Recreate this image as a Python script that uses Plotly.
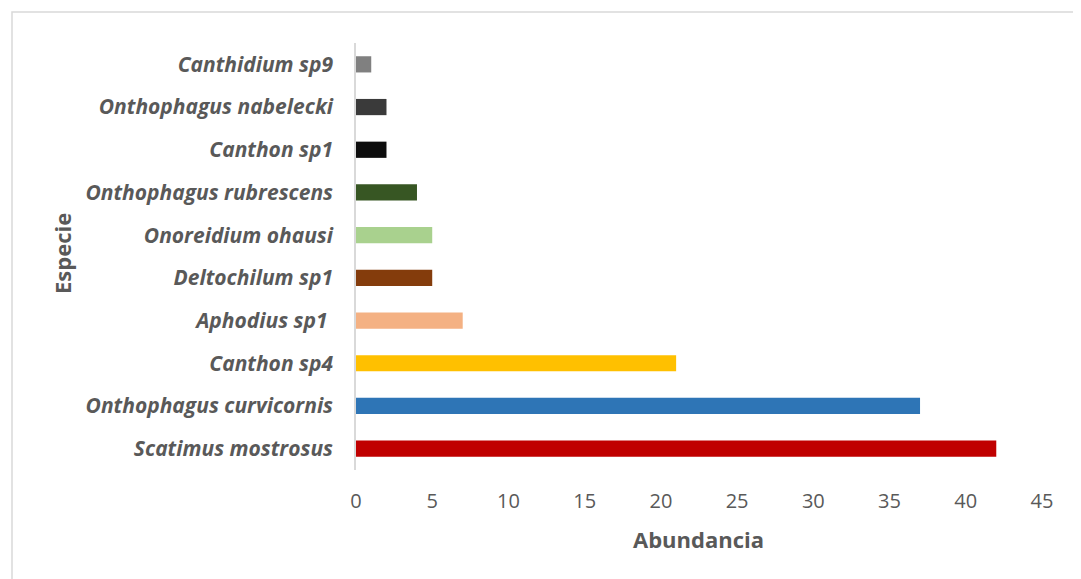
import plotly.graph_objects as go

species = ["Scatimus mostrosus", "Onthophagus curvicornis", "Canthon sp4", "Aphodius sp1 ",
           "Deltochilum sp1", "Onoreidium ohausi", "Onthophagus rubrescens", "Canthon sp1",
           "Onthophagus nabelecki", "Canthidium sp9"]
abundance = [42, 37, 21, 7, 5, 5, 4, 2, 2, 1]
colors = ["#c00000", "#2e75b6", "#ffc000", "#f4b183", "#843c0c", "#a9d18e",
          "#375623", "#0d0d0d", "#3a3a3a", "#808080"]
x_ticks = [0, 5, 10, 15, 20, 25, 30, 35, 40, 45]

OFF = 8  # default page body margin
W, H = 1081, 579
pw, ph = 686, 427
L, T = 356 - OFF, 43 - OFF
R, B = W - L - pw, H - T - ph

fig = go.Figure(go.Bar(
    y=species, x=abundance, orientation="h",
    marker=dict(color=colors, line=dict(width=0)),
    hoverinfo="x+y",
))

txt = "#595959"
FONT = "Open Sans, Lato, sans-serif"
fig.update_layout(
    width=W, height=H,
    margin=dict(l=L, r=R, t=T, b=B),
    paper_bgcolor="white", plot_bgcolor="white",
    bargap=0.62,
    showlegend=False,
    font=dict(family=FONT, color=txt),
    xaxis=dict(range=[0, 45], tickvals=x_ticks, showgrid=False, zeroline=False,
               showline=False, ticks="outside", ticklen=13, tickcolor="rgba(0,0,0,0)",
               tickfont=dict(size=20, color=txt, family=FONT), fixedrange=True),
    yaxis=dict(categoryorder="array", categoryarray=species, showgrid=False, zeroline=False,
               showline=True, linecolor="#d9d9d9", linewidth=1.5,
               ticks="outside", ticklen=17, tickcolor="rgba(0,0,0,0)",
               tickfont=dict(size=21, color=txt, family=FONT, weight="bold",
                             style="italic"),
               range=[-0.5, 9.5], fixedrange=True),
    annotations=[
        dict(text="<b>Abundancia</b>", xref="paper", yref="paper",
             x=(698 - OFF - L) / pw, y=-(539 - OFF - (T + ph)) / ph, showarrow=False,
             font=dict(size=22, color=txt, family=FONT), xanchor="center", yanchor="middle"),
        dict(text="<b>Especie</b>", xref="paper", yref="paper",
             x=(62 - OFF - L) / pw, y=1 - (254 - OFF - T) / ph, showarrow=False, textangle=-90,
             font=dict(size=22, color=txt, family=FONT), xanchor="center", yanchor="middle"),
    ],
    shapes=[dict(type="rect", xref="paper", yref="paper",
                 x0=(12 - OFF - L) / pw, x1=2, y0=-2, y1=1 + (T - (12 - OFF)) / ph,
                 line=dict(color="#d9d9d9", width=1.5), fillcolor="rgba(0,0,0,0)", layer="below")],
)

fig.write_html("out.html")
